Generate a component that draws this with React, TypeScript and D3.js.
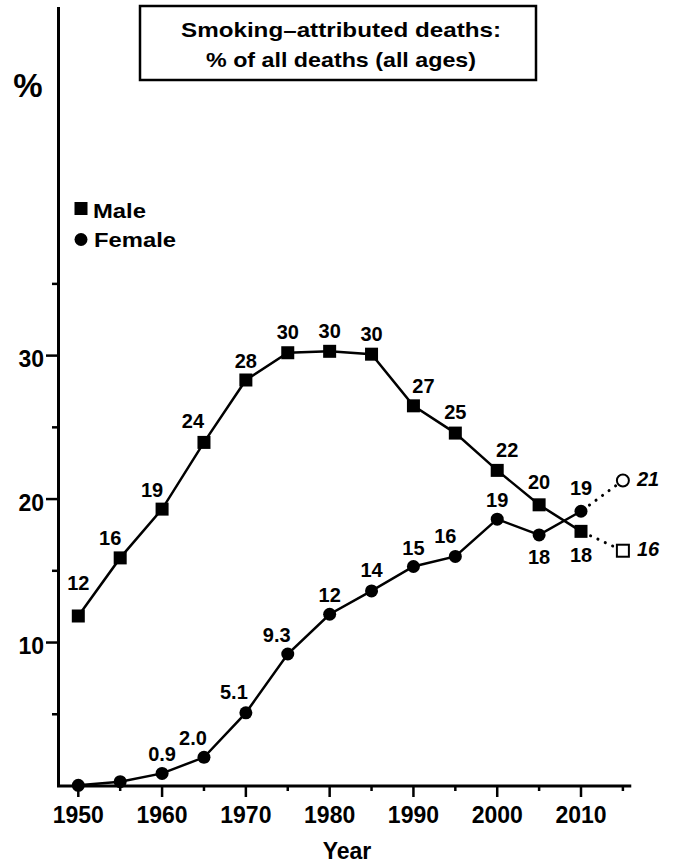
import React from "react";
import * as d3 from "d3";

const years = [1950, 1955, 1960, 1965, 1970, 1975, 1980, 1985, 1990, 1995, 2000, 2005, 2010];
const maleValues = [11.85, 15.9, 19.3, 23.95, 28.3, 30.2, 30.3, 30.1, 26.5, 24.6, 22.0, 19.6, 17.75];
const maleLabels = ["12", "16", "19", "24", "28", "30", "30", "30", "27", "25", "22", "20", "18"];
const femaleValues = [0.05, 0.3, 0.88, 2.0, 5.1, 9.2, 11.97, 13.6, 15.3, 16.0, 18.6, 17.5, 19.15];
const femaleLabels = ["", "", "0.9", "2.0", "5.1", "9.3", "12", "14", "15", "16", "19", "18", "19"];
const projYear = 2015;
const maleProjection = 16.4;
const femaleProjection = 21.3;
const maleProjLabel = "16";
const femaleProjLabel = "21";
const majorXTicks = [1950, 1960, 1970, 1980, 1990, 2000, 2010];
const minorXTicks = [1955, 1965, 1975, 1985, 1995, 2005, 2015];
const majorYTicks = [10, 20, 30];
const minorYTicks = [5, 15, 25, 35];
const titleLines = ["Smoking\u2013attributed deaths:", "% of all deaths (all ages)"];

// label placement offsets (px) relative to each marker: [dx, dy]
const maleLabelOffsets: [number, number][] = [
  [0, -26], [-10, -13], [-10, -12], [-11, -14], [0, -12], [0, -14], [0, -13],
  [0, -13], [10, -13], [0, -14], [10, -13], [0, -16], [0, 31],
];
const femaleLabelOffsets: [number, number][] = [
  [0, 0], [0, 0], [0, -12], [-11, -12], [-12, -14], [-11, -12], [0, -12],
  [0, -14], [0, -12], [-10, -13], [0, -12], [0, 29], [0, -16],
];

const FONT = "'Liberation Sans', Arial, Helvetica, sans-serif";

export default function App() {
  const x = d3.scaleLinear().domain([1950, 2010]).range([78.3, 581]);
  const y = d3.scaleLinear().domain([0, 54.3]).range([786, 7]);

  const line = d3
    .line<number>()
    .x((_, i) => x(years[i]))
    .y((v) => y(v));

  const dotted = (x1: number, y1: number, x2: number, y2: number, r1: number, r2: number) => {
    const dx = x2 - x1;
    const dy = y2 - y1;
    const len = Math.sqrt(dx * dx + dy * dy);
    const ux = dx / len;
    const uy = dy / len;
    return (
      <line
        x1={x1 + ux * (r1 + 4)}
        y1={y1 + uy * (r1 + 4)}
        x2={x2 - ux * (r2 + 2)}
        y2={y2 - uy * (r2 + 2)}
        stroke="#000"
        strokeWidth={3}
        strokeLinecap="round"
        strokeDasharray="0.1 8"
      />
    );
  };

  const lastI = years.length - 1;
  const mLastX = x(years[lastI]);
  const mLastY = y(maleValues[lastI]);
  const fLastY = y(femaleValues[lastI]);
  const px = x(projYear);
  const pmY = y(maleProjection);
  const pfY = y(femaleProjection);

  return (
    <svg
      width={678}
      height={865}
      style={{ position: "absolute", left: 0, top: 0, background: "#fff" }}
      fontFamily={FONT}
      fontWeight="bold"
    >
      {/* title box */}
      <rect x={140} y={6} width={396} height={74} fill="#fff" stroke="#000" strokeWidth={2.5} />
      <text x={341} y={37} textAnchor="middle" fontSize={21} textLength={320} lengthAdjust="spacingAndGlyphs">
        {titleLines[0]}
      </text>
      <text x={341} y={67} textAnchor="middle" fontSize={21} textLength={270} lengthAdjust="spacingAndGlyphs">
        {titleLines[1]}
      </text>

      {/* % label */}
      <text x={28} y={97} textAnchor="middle" fontSize={33}>%</text>

      {/* axes */}
      <line x1={58.5} y1={y(54.3)} x2={58.5} y2={787} stroke="#000" strokeWidth={3} />
      <line x1={57} y1={786} x2={x(2016)} y2={786} stroke="#000" strokeWidth={3} />

      {majorYTicks.map((t) => (
        <g key={"my" + t}>
          <line x1={46} x2={58} y1={y(t)} y2={y(t)} stroke="#000" strokeWidth={2.5} />
          <text x={44} y={y(t) + 11.5} textAnchor="end" fontSize={23}>{t}</text>
        </g>
      ))}
      {minorYTicks.map((t) => (
        <line key={"ny" + t} x1={52} x2={58} y1={y(t)} y2={y(t)} stroke="#000" strokeWidth={2.5} />
      ))}
      {majorXTicks.map((t) => (
        <g key={"mx" + t}>
          <line x1={x(t)} x2={x(t)} y1={786} y2={797} stroke="#000" strokeWidth={2.5} />
          <text x={x(t)} y={823} textAnchor="middle" fontSize={23}>{t}</text>
        </g>
      ))}
      {minorXTicks.map((t) => (
        <line key={"nx" + t} x1={x(t)} x2={x(t)} y1={786} y2={791} stroke="#000" strokeWidth={2.5} />
      ))}
      <text x={347} y={859} textAnchor="middle" fontSize={23}>Year</text>

      {/* legend */}
      <rect x={74.5} y={202} width={13} height={13} fill="#000" />
      <text x={93} y={217.5} fontSize={20} textLength={53} lengthAdjust="spacingAndGlyphs">Male</text>
      <circle cx={81} cy={239.5} r={6.5} fill="#000" />
      <text x={94} y={246.5} fontSize={20} textLength={82} lengthAdjust="spacingAndGlyphs">Female</text>

      {/* lines */}
      <path d={line(maleValues) || ""} fill="none" stroke="#000" strokeWidth={2.5} />
      <path d={line(femaleValues) || ""} fill="none" stroke="#000" strokeWidth={2.5} />

      {/* projections */}
      {dotted(mLastX, mLastY, px, pmY, 6.5, 6.5)}
      {dotted(mLastX, fLastY, px, pfY, 6.5, 6.5)}
      <rect x={px - 6} y={pmY - 6} width={12} height={12} fill="#fff" stroke="#000" strokeWidth={2} />
      <circle cx={px} cy={pfY} r={6} fill="#fff" stroke="#000" strokeWidth={2} />
      <text x={px + 14} y={pmY + 5.5} fontSize={20} fontStyle="italic">{maleProjLabel}</text>
      <text x={px + 14} y={pfY + 5.5} fontSize={20} fontStyle="italic">{femaleProjLabel}</text>

      {/* markers */}
      {maleValues.map((v, i) => (
        <rect key={"ms" + i} x={x(years[i]) - 6.5} y={y(v) - 6.5} width={13} height={13} fill="#000" />
      ))}
      {femaleValues.map((v, i) => (
        <circle key={"fc" + i} cx={x(years[i])} cy={y(v)} r={6.5} fill="#000" />
      ))}

      {/* value labels */}
      {maleValues.map((v, i) => (
        <text
          key={"ml" + i}
          x={x(years[i]) + maleLabelOffsets[i][0]}
          y={y(v) + maleLabelOffsets[i][1]}
          textAnchor="middle"
          fontSize={20}
        >
          {maleLabels[i]}
        </text>
      ))}
      {femaleValues.map((v, i) =>
        femaleLabels[i] ? (
          <text
            key={"fl" + i}
            x={x(years[i]) + femaleLabelOffsets[i][0]}
            y={y(v) + femaleLabelOffsets[i][1]}
            textAnchor="middle"
            fontSize={20}
          >
            {femaleLabels[i]}
          </text>
        ) : null
      )}
    </svg>
  );
}
